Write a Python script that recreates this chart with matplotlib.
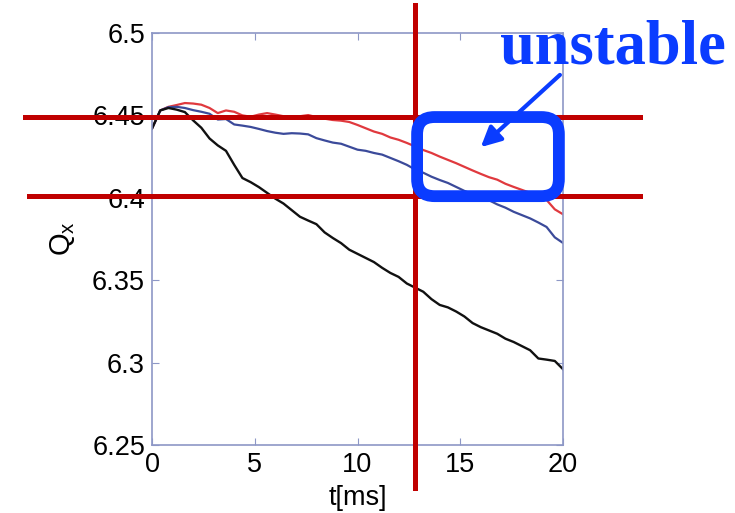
import numpy as np
import matplotlib
matplotlib.use("Agg")
import matplotlib.pyplot as plt
from matplotlib.patches import FancyBboxPatch

#==========================
# DATA
#==========================
t = np.arange(0, 20.01, 0.4)

q_black = [6.4420, 6.4530, 6.4545, 6.4535, 6.4520, 6.4470, 6.4425, 6.4360, 6.4318, 6.4285,
           6.4200, 6.4120, 6.4095, 6.4065, 6.4030, 6.3995, 6.3965, 6.3925, 6.3885, 6.3862,
           6.3840, 6.3790, 6.3756, 6.3725, 6.3685, 6.3660, 6.3635, 6.3610, 6.3575, 6.3544,
           6.3520, 6.3480, 6.3455, 6.3430, 6.3385, 6.3350, 6.3335, 6.3310, 6.3280, 6.3240,
           6.3215, 6.3195, 6.3175, 6.3145, 6.3125, 6.3100, 6.3075, 6.3025, 6.3018, 6.3010,
           6.2960]

q_blue = [6.4420, 6.4530, 6.4550, 6.4552, 6.4545, 6.4532, 6.4522, 6.4510, 6.4475, 6.4478,
          6.4445, 6.4438, 6.4430, 6.4418, 6.4405, 6.4395, 6.4388, 6.4392, 6.4390, 6.4385,
          6.4362, 6.4348, 6.4335, 6.4328, 6.4310, 6.4292, 6.4285, 6.4272, 6.4262, 6.4242,
          6.4222, 6.4200, 6.4172, 6.4152, 6.4128, 6.4108, 6.4090, 6.4066, 6.4042, 6.4022,
          6.4000, 6.3985, 6.3960, 6.3940, 6.3915, 6.3895, 6.3875, 6.3850, 6.3823, 6.3760,
          6.3726]

q_red = [6.4420, 6.4530, 6.4552, 6.4563, 6.4575, 6.4572, 6.4565, 6.4545, 6.4514, 6.4530,
         6.4522, 6.4500, 6.4492, 6.4505, 6.4514, 6.4505, 6.4495, 6.4488, 6.4495, 6.4502,
         6.4490, 6.4480, 6.4472, 6.4468, 6.4460, 6.4442, 6.4422, 6.4402, 6.4388, 6.4366,
         6.4352, 6.4333, 6.4312, 6.4290, 6.4272, 6.4250, 6.4230, 6.4210, 6.4188, 6.4166,
         6.4145, 6.4125, 6.4110, 6.4085, 6.4066, 6.4048, 6.4030, 6.4008, 6.3987, 6.3930,
         6.3900]

# stability window
q_hi, q_lo = 6.449, 6.401
t_cut = 12.8

#==========================
# FIGURE
#==========================
plt.rcParams['font.family'] = ['Liberation Sans', 'DejaVu Sans']
spine_c = '#8d97c6'

fig = plt.figure(figsize=(7.35, 5.13), dpi=100)
ax = fig.add_axes([152/735, 68/513, 411/735, 412/513])

ax.plot(t, q_red, color='#e0393e', lw=1.6)
ax.plot(t, q_blue, color='#3b4a9a', lw=1.6)
ax.plot(t, q_black, color='#111111', lw=1.7)

ax.set_xlim(0, 20)
ax.set_ylim(6.25, 6.5)
ax.set_xticks([0, 5, 10, 15, 20])
ax.set_yticks([6.25, 6.3, 6.35, 6.4, 6.45, 6.5])
ax.set_yticklabels(['6.25', '6.3', '6.35', '6.4', '6.45', '6.5'])
ax.tick_params(direction='in', top=True, right=True, length=5, color=spine_c,
               labelsize=19.5, pad=5)
for s in ax.spines.values():
    s.set_color(spine_c)
    s.set_linewidth(1.2)

ax.set_xlabel('t[ms]', fontsize=19.5, labelpad=5)
ax.set_ylabel(r'$\mathregular{Q_x}$', fontsize=21, labelpad=11)

# red guide lines, running past the axes
red = '#c00000'
ax.plot([-6.2, 23.75], [q_hi, q_hi], color=red, lw=3.6, clip_on=False, zorder=5)
ax.plot([-6.0, 23.75], [q_lo, q_lo], color=red, lw=3.6, clip_on=False, zorder=5)
ax.plot([t_cut, t_cut], [6.517, 6.224], color=red, lw=3.6, clip_on=False, zorder=5)

# blue rounded box
blue = '#0a3cff'
box = FancyBboxPatch((12.9, q_lo), 19.8 - 12.9, q_hi - q_lo,
                     boxstyle='round,pad=0,rounding_size=0.85',
                     mutation_aspect=0.0122, fc='none', ec=blue, lw=8.5,
                     clip_on=False, zorder=6)
ax.add_patch(box)

ax.annotate('', xy=(15.9, 6.4296), xytext=(19.95, 6.4757),
            arrowprops=dict(arrowstyle='-|>', color=blue, lw=3, mutation_scale=30),
            annotation_clip=False, zorder=7)

fig.text(500/735, (513-64)/513, 'unstable', color=blue, fontsize=45,
         fontweight='bold', family='Liberation Serif', va='baseline', ha='left')

fig.savefig('out.png', dpi=100)
